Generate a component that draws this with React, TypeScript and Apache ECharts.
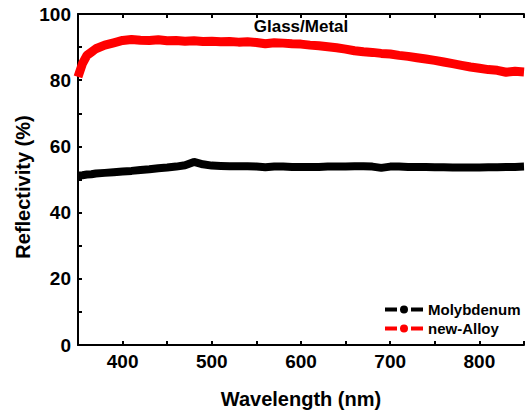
import React, { useEffect, useRef } from "react";
import * as echarts from "echarts";

const wavelengths = [350, 355, 360, 365, 370, 380, 390, 400, 410, 420, 430, 440, 450, 460, 470, 480, 490, 500, 510, 520, 530, 540, 550, 560, 570, 580, 590, 600, 610, 620, 630, 640, 650, 660, 670, 680, 690, 700, 710, 720, 730, 740, 750, 760, 770, 780, 790, 800, 810, 820, 830, 840, 850];
const newAlloy = [81, 85, 87.5, 88.5, 89.5, 90.6, 91.3, 92, 92.3, 92.1, 92, 92.2, 91.9, 92, 91.8, 91.9, 91.7, 91.8, 91.6, 91.7, 91.5, 91.6, 91.4, 91, 91.3, 91.2, 91, 90.9, 90.6, 90.4, 90.1, 89.8, 89.4, 88.9, 88.6, 88.4, 88.1, 87.9, 87.5, 87.2, 86.8, 86.4, 86, 85.5, 85, 84.5, 84, 83.6, 83.2, 83, 82.4, 82.7, 82.5];
const molybdenum = [51.2, 51.3, 51.5, 51.6, 51.8, 52, 52.2, 52.4, 52.6, 52.9, 53.1, 53.4, 53.6, 53.9, 54.3, 55.3, 54.6, 54.2, 54.1, 54, 54, 54, 53.9, 53.7, 53.9, 53.9, 53.8, 53.8, 53.8, 53.8, 53.9, 53.9, 53.9, 54, 54, 53.9, 53.5, 53.9, 53.9, 53.8, 53.8, 53.8, 53.7, 53.7, 53.6, 53.6, 53.6, 53.6, 53.7, 53.7, 53.8, 53.8, 53.9];
const xTicks = { min: 350, max: 850, interval: 50 };
const yTicks = { min: 0, max: 100, interval: 20 };

const font = "'Liberation Sans', Arial, sans-serif";
const legendIcon = "path://M0,3H12V7H0Z M15,5A4,4 0 1,0 23,5A4,4 0 1,0 15,5Z M26,3H38V7H26Z";

export default function App() {
  const ref = useRef<HTMLDivElement>(null);
  useEffect(() => {
    if (!ref.current) return;
    const chart = echarts.init(ref.current, undefined, { renderer: "svg" });
    const axisLine = { show: true, onZero: false, lineStyle: { color: "#000", width: 2 } };
    const tick = { show: true, inside: true, length: 4, lineStyle: { color: "#000", width: 2 } };
    chart.setOption({
      animation: false,
      backgroundColor: "#fff",
      title: {
        text: "Glass/Metal",
        left: 296,
        top: 13,
        textAlign: "center",
        textStyle: { fontFamily: font, fontWeight: "bold", fontSize: 17, color: "#000" },
      },
      grid: { left: 78, top: 14, width: 452, height: 331, show: false },
      legend: {
        orient: "vertical",
        left: 380,
        top: 297,
        itemGap: 4,
        itemWidth: 38,
        itemHeight: 10,
        textStyle: { fontFamily: font, fontWeight: "bold", fontSize: 15, color: "#000" },
        data: [
          { name: "Molybdenum", icon: legendIcon },
          { name: "new-Alloy", icon: legendIcon },
        ],
      },
      graphic: [
        {
          type: "text",
          x: 23,
          y: 187,
          rotation: Math.PI / 2,
          style: {
            text: "Reflectivity (%)",
            fontFamily: font,
            fontWeight: "bold",
            fontSize: 20,
            fill: "#000",
            align: "center",
            verticalAlign: "middle",
          },
        },
      ],
      xAxis: [
        {
          type: "value",
          min: xTicks.min,
          max: xTicks.max,
          interval: xTicks.interval,
          name: "Wavelength (nm)",
          nameLocation: "middle",
          nameGap: 44,
          nameTextStyle: { fontFamily: font, fontWeight: "bold", fontSize: 20, color: "#000" },
          axisLine,
          axisTick: tick,
          axisLabel: {
            fontFamily: font,
            fontWeight: "bold",
            fontSize: 19,
            color: "#000",
            margin: 7,
            formatter: (v: number) => (v % 100 === 0 ? String(v) : ""),
            showMinLabel: false,
          },
          splitLine: { show: false },
        },
        {
          type: "value",
          position: "top",
          min: xTicks.min,
          max: xTicks.max,
          interval: xTicks.interval,
          axisLine,
          axisTick: tick,
          axisLabel: { show: false },
          splitLine: { show: false },
        },
      ],
      yAxis: {
        type: "value",
        min: yTicks.min,
        max: yTicks.max,
        interval: 10,
        axisLine,
        axisTick: tick,
        axisLabel: {
          fontFamily: font,
          fontWeight: "bold",
          fontSize: 19,
          color: "#000",
          margin: 7,
          formatter: (v: number) => (v % yTicks.interval === 0 ? String(v) : ""),
        },
        splitLine: { show: false },
      },
      series: [
        {
          name: "Molybdenum",
          type: "line",
          data: wavelengths.map((w, i) => [w, molybdenum[i]]),
          symbol: "circle",
          symbolSize: 8,
          showSymbol: false,
          itemStyle: { color: "#000" },
          lineStyle: { color: "#000", width: 8 },
        },
        {
          name: "new-Alloy",
          type: "line",
          data: wavelengths.map((w, i) => [w, newAlloy[i]]),
          symbol: "circle",
          symbolSize: 8,
          showSymbol: false,
          itemStyle: { color: "#ff0000" },
          lineStyle: { color: "#ff0000", width: 9 },
        },
      ],
    });
    return () => chart.dispose();
  }, []);
  return <div ref={ref} style={{ width: 527, height: 414, position: "absolute", left: 0, top: 0 }} />;
}
